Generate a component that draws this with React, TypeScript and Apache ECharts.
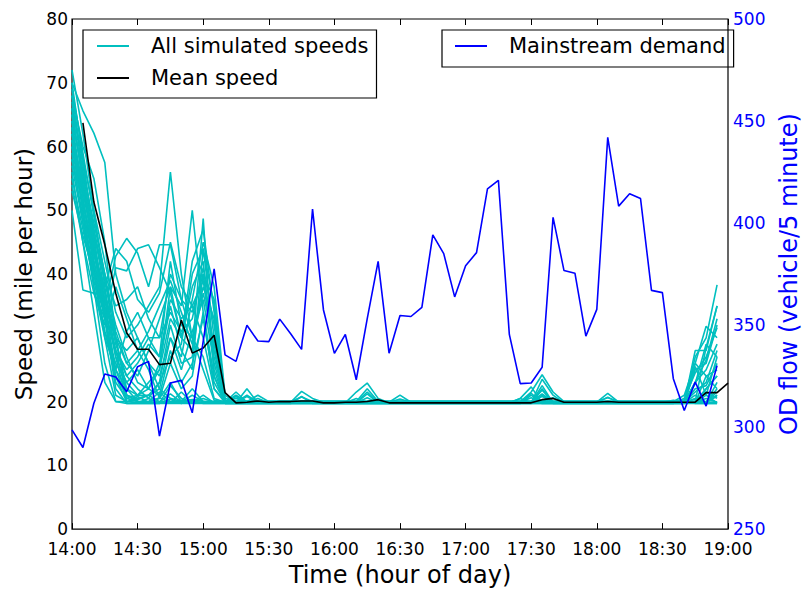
import React, { useEffect, useRef } from "react";
import * as echarts from "echarts";

// Time axis: 14:00 .. 19:00 every 5 minutes (61 slots)
const timeLabels: string[] = Array.from({ length: 61 }, (_, i) => {
  const m = i * 5;
  const h = 14 + Math.floor(m / 60);
  const mm = m % 60;
  return `${h}:${mm < 10 ? "0" : ""}${mm}`;
});

// Simulated speed runs (mph), 14:00 .. 18:55
const sim01 = [72,62,50,38,27,20,19.8,20.5,19.8,19.8, 20.2,19.8,19.8,19.8,19.8,19.8,19.8,19.8,19.8,19.8, 19.8,19.8,19.8,19.8,19.8,19.8,19.8,20.6,19.8,19.8, 19.8,19.8,19.8,19.8,19.8,19.8,19.8,19.8,19.8,19.8, 19.8,19.8,19.8,19.8,19.8,19.8,19.8,19.8,19.8,19.8, 19.8,19.8,19.8,19.8,19.8,19.8,19.8,21,19.8,22];
const sim02 = [70,58,46,34,24,19.9,20.8,19.9,19.9,21.2, 19.9,19.9,20.5,19.9,19.9,19.9,19.9,19.9,19.9,19.9, 19.9,19.9,19.9,19.9,19.9,19.9,19.9,19.9,19.9,19.9, 19.9,19.9,19.9,19.9,19.9,19.9,19.9,19.9,19.9,19.9, 19.9,19.9,19.9,21,19.9,19.9,19.9,19.9,19.9,19.9, 19.9,19.9,19.9,19.9,19.9,19.9,19.9,20.5,19.9,21];
const sim03 = [68,60,55,45,30,21,20,20,21.5,20, 20,20.3,20,20,20,20.5,20,20,20,20, 20,20,20,20,20,20,20,20,20,20, 20,20,20,20,20,20,20,20,20,20, 20,20,20,20,20,20,20,20,20,20, 20,20,20,20,20,20,20,20,21.5,20.5];
const sim04 = [67,56,44,33,22,19.7,19.7,19.7,19.7,20.4, 19.7,19.7,19.7,19.7,19.7,19.7,19.7,19.7,19.7,19.7, 19.7,19.7,19.7,19.7,19.7,19.7,19.7,19.7,19.7,19.7, 19.7,19.7,19.7,19.7,19.7,19.7,19.7,19.7,19.7,19.7, 19.7,19.7,19.7,19.7,19.7,19.7,19.7,19.7,19.7,19.7, 19.7,19.7,19.7,19.7,19.7,19.7,20.3,19.7,19.7,19.7];
const sim05 = [65,55,47,39,30,22,20,19.8,19.8,22.5, 20.5,19.8,21,19.8,19.8,19.8,19.8,19.8,19.8,19.8, 19.8,19.8,19.8,19.8,19.8,19.8,20.5,19.8,19.8,19.8, 19.8,19.8,19.8,19.8,19.8,19.8,19.8,19.8,19.8,19.8, 19.8,19.8,19.8,19.8,19.8,19.8,19.8,19.8,19.8,19.8, 19.8,19.8,19.8,19.8,19.8,19.8,19.8,19.8,21,19.8];
const sim06 = [64,52,41,30,21,20,19.9,19.9,20.6,19.9, 19.9,19.9,19.9,19.9,19.9,19.9,19.9,19.9,19.9,19.9, 19.9,19.9,19.9,19.9,19.9,19.9,19.9,19.9,19.9,19.9, 19.9,19.9,19.9,19.9,19.9,19.9,19.9,19.9,19.9,19.9, 19.9,19.9,19.9,19.9,19.9,19.9,19.9,19.9,19.9,19.9, 19.9,19.9,19.9,19.9,19.9,19.9,19.9,19.9,20.5,19.9];
const sim07 = [63,50,38,26,20,20,20.3,21,20,20, 20,22,20,20,20,20,20,20,20,20, 20,20,20,20,20,20,20,20,20,20, 20,20,20,20,20,20,20,20,20,20, 20,20,20,20,20,20,20,20,20,20, 20,20,20,20,20,20,20,20,20,20.8];
const sim08 = [62,53,45,35,25,20.5,20,19.8,19.8,19.8, 21.5,19.8,19.8,19.8,19.8,19.8,19.8,19.8,19.8,19.8, 19.8,19.8,19.8,19.8,19.8,19.8,19.8,19.8,19.8,19.8, 19.8,19.8,19.8,19.8,19.8,19.8,19.8,19.8,19.8,19.8, 19.8,19.8,19.8,19.8,19.8,19.8,19.8,19.8,19.8,19.8, 19.8,19.8,19.8,19.8,19.8,19.8,19.8,20.4,19.8,21];
const sim09 = [60,51,43,36,28,21,20,19.9,20.5,23, 19.9,19.9,19.9,19.9,19.9,19.9,19.9,19.9,19.9,19.9, 19.9,19.9,19.9,19.9,19.9,19.9,19.9,19.9,19.9,19.9, 19.9,19.9,19.9,19.9,19.9,19.9,19.9,19.9,19.9,19.9, 19.9,19.9,19.9,20.3,19.9,19.9,19.9,19.9,19.9,19.9, 19.9,19.9,19.9,19.9,19.9,19.9,19.9,19.9,19.9,19.9];
const sim10 = [56,45,34,23,20,19.7,19.7,19.7,19.7,19.7, 19.7,20.2,19.7,19.7,19.7,19.7,19.7,19.7,19.7,19.7, 19.7,19.7,19.7,19.7,19.7,19.7,19.7,19.7,19.7,19.7, 19.7,19.7,19.7,19.7,19.7,19.7,19.7,19.7,19.7,19.7, 19.7,19.7,19.7,19.7,19.7,19.7,19.7,19.7,19.7,19.7, 19.7,19.7,19.7,19.7,19.7,19.7,19.7,19.7,19.7,19.7];
const sim11 = [70,65.6,62.1,57.5,40,34,30,26,22,20.5, 20,21,20,19.8,19.8,19.8,19.8,19.8,19.8,19.8, 19.8,19.8,19.8,19.8,19.8,19.8,19.8,19.8,19.8,19.8, 19.8,19.8,19.8,19.8,19.8,19.8,19.8,19.8,19.8,19.8, 19.8,20.5,19.8,19.8,19.8,19.8,19.8,19.8,19.8,19.8, 19.8,19.8,19.8,19.8,19.8,19.8,19.8,28,28,35];
const sim12 = [66,58,50,42,34,30,32,35,38,56, 40,30,27,20.5,19.9,19.9,19.9,19.9,19.9,19.9, 19.9,21.6,20.5,19.9,19.9,19.9,19.9,19.9,19.9,19.9, 19.9,19.9,19.9,19.9,19.9,19.9,19.9,19.9,19.9,19.9, 19.9,19.9,19.9,19.9,19.9,19.9,19.9,19.9,19.9,19.9, 19.9,19.9,19.9,19.9,19.9,20.2,19.9,27,30,38.3];
const sim13 = [64,56,48,40,31,26,24,28,33,38, 35,50,34,22,20,21,20,20,20,20, 20,20,20,20,20,20,20,20,20,20, 20,20,20,20,20,20,20,20,20,20, 20,20,20,21.8,20,20,20,20,20,20, 20,20,20,20,20,20,21,26,31.8,30];
const sim14 = [62,54,46,39,32,27,23,22,25,33, 30,28,48.7,24,19.8,19.8,19.8,19.8,19.8,19.8, 19.8,19.8,19.8,19.8,19.8,19.8,21.5,22.9,20.5,19.8, 19.8,19.8,19.8,19.8,19.8,19.8,19.8,19.8,19.8,19.8, 19.8,19.8,19.8,19.8,19.8,19.8,19.8,19.8,19.8,19.8, 19.8,19.8,19.8,19.8,19.8,19.8,19.8,25,26,32];
const sim15 = [60,50,42,35,42.8,45.6,43.3,38,44.6,44.6, 36,30,25,20.2,19.9,21.5,19.9,19.9,19.9,19.9, 19.9,19.9,19.9,19.9,19.9,19.9,19.9,19.9,19.9,19.9, 21,19.9,19.9,19.9,19.9,19.9,19.9,19.9,19.9,19.9, 19.9,19.9,19.9,19.9,19.9,19.9,19.9,19.9,19.9,19.9, 19.9,19.9,19.9,19.9,19.9,19.9,20.5,24.5,27,31.6];
const sim16 = [58,49,40,33,41,40.5,44,44.6,41,37, 30,38,42,25,19.8,19.8,22,19.8,19.8,19.8, 19.8,19.8,19.8,19.8,19.8,19.8,19.8,19.8,19.8,19.8, 19.8,19.8,19.8,19.8,19.8,19.8,19.8,19.8,19.8,19.8, 19.8,20.5,22.3,19.8,19.8,19.8,19.8,19.8,19.8,19.8, 19.8,19.8,19.8,19.8,19.8,19.8,19.8,23,25,29];
const sim17 = [57,48,41,34,28,25,27,30,30,40, 36,34,40,36,20.5,20,20,21,20,20, 20,20,20,20,20,20,20,20,20,20, 20,20,20,20,20,20,20,20,20,20, 20,20,21.5,24.2,21.5,20,20,20,20,20, 20,20,20,20,20,20,20,22.8,29,27];
const sim18 = [55,47,39,31,26,23,21,22,26,35, 28,25,44,30,19.7,19.7,19.7,19.7,19.7,19.7, 19.7,20.8,19.7,19.7,19.7,19.7,19.7,19.7,19.7,19.7, 19.7,19.7,19.7,19.7,19.7,19.7,19.7,19.7,19.7,19.7, 19.7,19.7,21,19.7,19.7,19.7,19.7,19.7,19.7,19.7, 19.7,19.7,19.7,19.7,19.7,19.7,19.7,22,22.5,26];
const sim19 = [68,57,47,37,29,24,26,29,27,42, 32,30,38,33,19.9,19.9,21,19.9,19.9,19.9, 19.9,19.9,19.9,19.9,19.9,19.9,19.9,19.9,19.9,19.9, 19.9,19.9,19.9,19.9,19.9,19.9,19.9,19.9,19.9,19.9, 19.9,19.9,20.6,19.9,19.9,19.9,19.9,19.9,19.9,21.3, 19.9,19.9,19.9,19.9,19.9,19.9,19.9,21.5,23,28];
const sim20 = [65,55,45,36,30,28,30,26,24,30, 27,36,45,38,21,19.8,19.8,20.5,19.8,19.8, 19.8,19.8,19.8,19.8,19.8,19.8,19.8,19.8,19.8,19.8, 19.8,19.8,19.8,19.8,19.8,19.8,19.8,19.8,19.8,19.8, 19.8,19.8,19.8,23.5,21,19.8,19.8,19.8,19.8,19.8, 19.8,19.8,19.8,19.8,19.8,19.8,19.8,19.8,24,25];
const sim21 = [61,50,40,31,24,21,20.5,21,23,32, 26,27,40,28,20,20,20,20,20,20, 20,20,20,20,20,20,20,22,20,20, 20,20,20,20,20,20,20,20,20,20, 20,20,20,20.8,20,20,20,20,20,20, 20,20,20,20,20,20,20,20,22,24];
const sim22 = [59,48,38,30,25,31,34,30,27,36, 33,35,30,22,19.8,19.8,19.8,19.8,19.8,19.8, 19.8,19.8,19.8,19.8,19.8,19.8,19.8,21.2,19.8,19.8, 19.8,19.8,19.8,19.8,19.8,19.8,19.8,19.8,19.8,19.8, 19.8,19.8,19.8,22.5,19.8,19.8,19.8,19.8,19.8,19.8, 19.8,19.8,19.8,19.8,19.8,19.8,19.8,19.8,19.8,23];
const sim23 = [54,45,37,32,38,33,28,25,20.5,26, 22,24,34,24,19.9,19.9,19.9,19.9,19.9,19.9, 19.9,19.9,19.9,19.9,19.9,19.9,19.9,19.9,19.9,19.9, 20.4,19.9,19.9,19.9,19.9,19.9,19.9,19.9,19.9,19.9, 19.9,19.9,19.9,19.9,20.6,19.9,19.9,19.9,19.9,19.9, 19.9,19.9,19.9,19.9,19.9,19.9,19.9,19.9,19.9,21.5];
const sim24 = [50,37.5,37,33,23,20.5,21,21,22,30, 25,31,36,26,19.8,19.8,19.8,19.8,19.8,19.8, 19.8,19.8,19.8,19.8,19.8,19.8,19.8,19.8,19.8,19.8, 19.8,19.8,19.8,19.8,19.8,19.8,19.8,19.8,19.8,19.8, 19.8,19.8,19.8,19.8,19.8,19.8,19.8,19.8,19.8,20.7, 19.8,19.8,19.8,19.8,19.8,19.8,19.8,19.8,19.8,19.8];
const sim25 = [69,59,49,40,35,36,38,33,30,34, 31,33,41,32,19.8,19.8,19.8,19.8,19.8,19.8, 19.8,19.8,19.8,19.8,19.8,19.8,19.8,19.8,19.8,19.8, 19.8,19.8,19.8,19.8,19.8,19.8,19.8,19.8,19.8,19.8, 19.8,19.8,19.8,19.8,19.8,19.8,19.8,19.8,19.8,19.8, 19.8,19.8,19.8,19.8,19.8,19.8,19.8,19.8,22,24];
const sim26 = [66,54,43,38,44,42,36,34,37,45, 38,35,39,27,20,20,20,20,20,20, 20,20,20,20,20,20,20,20,20,20, 20,20,20,20,20,20,20,20,20,20, 20,20,20,21.2,20,20,20,20,20,20, 20,20,20,20,20,20,20,23,26.5,33];
const sim27 = [63,53,44,35,27,23,25,22,21,28, 23,26,33,23,19.9,19.9,20.8,19.9,19.9,19.9, 19.9,19.9,19.9,19.9,19.9,19.9,19.9,21.5,19.9,19.9, 19.9,19.9,19.9,19.9,19.9,19.9,19.9,19.9,19.9,19.9, 19.9,19.9,19.9,19.9,19.9,19.9,19.9,19.9,19.9,19.9, 19.9,19.9,19.9,19.9,19.9,19.9,19.9,19.9,19.9,19.9];
const sim28 = [61,52,42,33,25,22,21,23,25,38, 30,42,47,34,19.8,20.8,19.8,19.8,19.8,19.8, 19.8,19.8,19.8,19.8,19.8,19.8,19.8,19.8,19.8,19.8, 19.8,19.8,19.8,19.8,19.8,19.8,19.8,19.8,19.8,19.8, 19.8,19.8,21.3,19.8,19.8,19.8,19.8,19.8,19.8,19.8, 19.8,19.8,19.8,19.8,19.8,19.8,19.8,26,24,22];
const sim29 = [58,51,44,37,30,26,28,31,35,39, 34,29,37,29,20,20,20,20,20,20, 20,20.7,20,20,20,20,20,20,20,20, 20,20,20,20,20,20,20,20,20,20, 20,20,20,20,20,20,20,20,20,20.6, 20,20,20,20,20,20,20,20,28.5,35];
const sim30 = [53,46,40,34,28,24,22,20.5,23,27, 29,40,44,35,19.7,19.7,19.7,19.7,19.7,19.7, 19.7,19.7,19.7,19.7,19.7,19.7,19.7,19.7,19.7,19.7, 19.7,19.7,19.7,19.7,19.7,19.7,19.7,19.7,19.7,19.7, 19.7,19.7,19.7,22,19.7,19.7,19.7,19.7,19.7,19.7, 19.7,19.7,19.7,19.7,19.7,19.7,19.7,25.5,21,27];

const simulatedRuns = [sim01, sim02, sim03, sim04, sim05, sim06, sim07, sim08, sim09, sim10,
  sim11, sim12, sim13, sim14, sim15, sim16, sim17, sim18, sim19, sim20,
  sim21, sim22, sim23, sim24, sim25, sim26, sim27, sim28, sim29, sim30];

// Mean speed (mph), 14:00 .. 19:00 (first slot empty)
const meanSpeed = [null, 63.7, 51.3, 44.6, 37.0, 30.8, 28.2, 28.2, 25.8, 26.0,
  32.8, 27.6, 28.4, 30.4, 21.4, 19.8, 19.9, 20.1, 19.9, 20.0,
  20.0, 20.1, 20.1, 19.8, 19.8, 19.9, 19.9, 20.0, 20.3, 19.8,
  19.8, 19.8, 19.8, 19.8, 19.8, 19.8, 19.8, 19.8, 19.8, 19.8,
  19.8, 19.8, 19.8, 20.3, 20.5, 19.9, 19.9, 19.9, 19.9, 20.0,
  19.9, 19.9, 19.9, 19.9, 19.9, 19.9, 19.9, 19.9, 21.4, 21.4, 22.9];

// Mainstream demand (vehicle / 5 minute), 14:00 .. 18:55
const demand = [298.6, 290, 311.7, 326, 324.5, 317.3, 329.6, 332.2, 295.6, 321.6,
  322.9, 307, 342, 377.6, 335.4, 332.2, 349.9, 342.2, 341.9, 352.9,
  345.7, 338.1, 406.9, 357.4, 336.1, 345.4, 323.2, 353, 381.2, 336.2,
  354.7, 354.2, 358.7, 394.2, 385, 363.8, 379.1, 385.5, 416.8, 420.9,
  345.4, 321.3, 321.6, 329.3, 402.8, 376.7, 375.4, 344.6, 357.7, 442,
  408.3, 414.4, 412, 367, 365.9, 323.7, 308.1, 322.1, 310.3, 330.1];

const FONT = "DejaVu Sans";
const CYAN = "#00BFBF";
const BLUE = "#0000FF";
const LINE_ICON = "rect";

export default function App() {
  const ref = useRef<HTMLDivElement>(null);
  useEffect(() => {
    if (!ref.current) return;
    const chart = echarts.init(ref.current, undefined, { renderer: "svg" });
    const cyanSeries = simulatedRuns.map((run) => ({
      name: "All simulated speeds",
      type: "line",
      data: run,
      symbol: "none",
      lineStyle: { color: CYAN, width: 1.6 },
      itemStyle: { color: CYAN },
      xAxisIndex: 0,
      yAxisIndex: 0,
      silent: true,
    }));
    const legendText = { fontFamily: FONT, fontSize: 21, color: "#000", lineHeight: 24, padding: [0, 0, 0, 17] };
    chart.setOption({
      animation: false,
      grid: { left: 72, right: 67, top: 19, bottom: 54, show: true, borderColor: "#000", borderWidth: 1.2, backgroundColor: "transparent" },
      legend: [
        {
          data: [
            { name: "All simulated speeds", icon: LINE_ICON },
            { name: "Mean speed", icon: LINE_ICON },
          ],
          left: 83, top: 30, orient: "vertical",
          itemWidth: 32, itemHeight: 2, itemGap: 8,
          padding: [4, 8, 8, 14],
          borderColor: "#000", borderWidth: 1.2, borderRadius: 0,
          textStyle: legendText, selectedMode: false,
        },
        {
          data: [{ name: "Mainstream demand", icon: LINE_ICON }],
          left: 442, top: 30, orient: "vertical",
          itemWidth: 32, itemHeight: 2, itemGap: 8,
          padding: [4, 8, 9, 13],
          borderColor: "#000", borderWidth: 1.2, borderRadius: 0,
          textStyle: legendText, selectedMode: false,
        },
      ],
      xAxis: [
        {
          type: "category", data: timeLabels, boundaryGap: false,
          axisLine: { show: false },
          axisTick: { inside: true, interval: 5, length: 6, lineStyle: { color: "#000", width: 1 } },
          axisLabel: { interval: 5, margin: 11, fontSize: 17, lineHeight: 18, color: "#000", fontFamily: FONT },
          splitLine: { show: false },
          name: "Time (hour of day)", nameLocation: "middle", nameGap: 31,
          nameTextStyle: { fontSize: 24, color: "#000", fontFamily: FONT },
        },
        {
          type: "category", data: timeLabels, boundaryGap: false, position: "top",
          axisLine: { show: false },
          axisTick: { inside: true, interval: 5, length: 6, lineStyle: { color: "#000", width: 1 } },
          axisLabel: { show: false },
          splitLine: { show: false },
        },
      ],
      yAxis: [
        {
          type: "value", min: 0, max: 80, interval: 10, position: "left",
          axisLine: { show: false },
          axisTick: { inside: true, length: 6, lineStyle: { color: "#000", width: 1 } },
          axisLabel: { margin: 4, fontSize: 17, padding: [-8, 0, 0, 0], color: "#000", fontFamily: FONT },
          splitLine: { show: false },
          name: "Speed (mile per hour)", nameLocation: "middle", nameGap: 36,
          nameTextStyle: { fontSize: 23, color: "#000", fontFamily: FONT },
        },
        {
          type: "value", min: 250, max: 500, interval: 50, position: "right",
          axisLine: { show: false },
          axisTick: { inside: true, length: 6, lineStyle: { color: BLUE, width: 1 } },
          axisLabel: { margin: 5, fontSize: 17, padding: [-8, 0, 0, 0], color: BLUE, fontFamily: FONT },
          splitLine: { show: false },
          name: "OD flow (vehicle/5 minute)", nameLocation: "middle", nameGap: 49,
          nameTextStyle: { fontSize: 24, color: BLUE, fontFamily: FONT },
        },
      ],
      series: [
        ...cyanSeries,
        {
          name: "Mean speed", type: "line", data: meanSpeed, symbol: "none",
          lineStyle: { color: "#000", width: 1.6 }, itemStyle: { color: "#000" },
          xAxisIndex: 0, yAxisIndex: 0, silent: true,
        },
        {
          name: "Mainstream demand", type: "line", data: demand, symbol: "none",
          lineStyle: { color: BLUE, width: 1.6 }, itemStyle: { color: BLUE },
          xAxisIndex: 0, yAxisIndex: 1, silent: true,
        },
      ],
    });
    return () => chart.dispose();
  }, []);
  return <div ref={ref} style={{ position: "absolute", left: 0, top: 0, width: 809, height: 592 }} />;
}
